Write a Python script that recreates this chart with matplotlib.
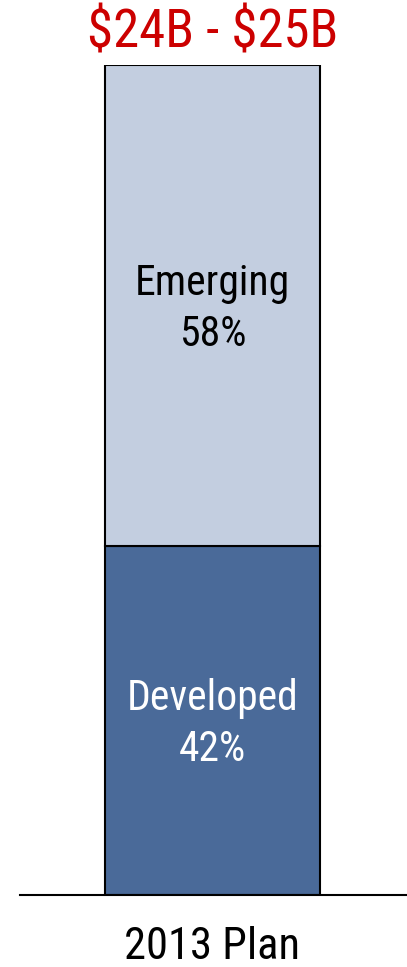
import matplotlib
matplotlib.use("Agg")
import matplotlib.pyplot as plt
from matplotlib import font_manager

# Stacked share of revenue by market type
category = ["2013 Plan"]
segments = ["Developed", "Emerging"]
shares = [42, 58]
seg_colors = ["#4A6A99", "#C3CEE0"]
seg_text_colors = ["white", "black"]
total_label = r"\$24B - \$25B"

names = {f.name for f in font_manager.fontManager.ttflist}
family = next((n for n in ("Roboto Condensed", "Archivo Narrow")
               if n in names), "DejaVu Sans")
plt.rcParams["font.family"] = [family, "DejaVu Sans"]

fig = plt.figure(figsize=(4.07, 9.67), dpi=100)
ax = fig.add_axes([20 / 407, 72 / 967, 387 / 407, 830 / 967])

bottom = 0
for seg, val, col, tcol in zip(segments, shares, seg_colors, seg_text_colors):
    ax.bar(0, val, width=0.6, bottom=bottom, color=col, edgecolor="black",
           linewidth=1.5, zorder=2)
    mid = bottom + val / 2
    ax.text(0, mid + 1.3, seg, ha="center", va="baseline", fontsize=30,
            color=tcol)
    ax.text(0, mid - 4.9, f"{val}%", ha="center", va="baseline", fontsize=30,
            color=tcol)
    bottom += val

ax.text(0, bottom + 2.05, total_label, ha="center", va="baseline", fontsize=38,
        color="#CC0000")

ax.set_xlim(-0.537, 0.543)
ax.set_ylim(0, 100)
for s in ["top", "left", "right"]:
    ax.spines[s].set_visible(False)
ax.spines["bottom"].set_linewidth(1.5)
ax.set_yticks([])
ax.set_xticks([0])
ax.set_xticklabels(category, fontsize=32)
for lbl in ax.get_xticklabels():
    lbl.set_verticalalignment("baseline")
ax.tick_params(axis="x", length=0, pad=46)

fig.savefig("out.png", dpi=100)
